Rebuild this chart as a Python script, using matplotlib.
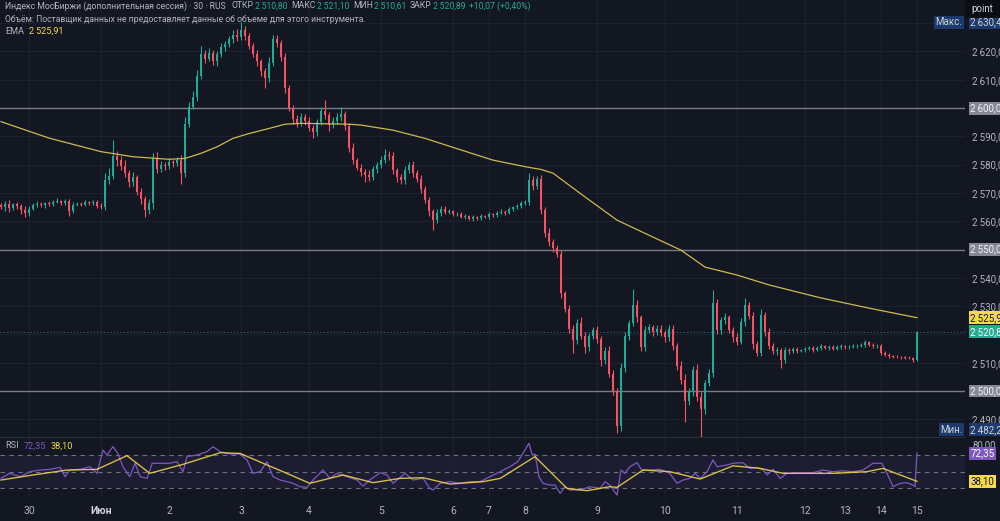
import numpy as np
import matplotlib.pyplot as plt
from matplotlib.patches import Rectangle

plt.rcParams['font.family'] = ['Roboto', 'DejaVu Sans']

# ---- data: 30-minute candles, index = bar number ----
first_open = 2565.6
close = [
    2565.0, 2566.2, 2564.8, 2566.0, 2565.3, 2564.0, 2562.8, 2564.5, 2565.8, 2566.1,
    2565.6, 2566.4, 2566.0, 2566.8, 2567.0, 2566.5, 2567.2, 2563.5, 2565.8, 2566.2,
    2565.9, 2566.7, 2566.3, 2566.9, 2565.4, 2565.0, 2574.5, 2576.0, 2583.0, 2581.5,
    2579.5, 2577.0, 2574.0, 2575.5, 2570.5, 2568.0, 2564.0, 2566.5, 2582.5, 2578.5,
    2580.0, 2579.5, 2581.0, 2580.5, 2581.5, 2577.0, 2594.5, 2600.5, 2604.0, 2611.5,
    2619.0, 2617.5, 2619.5, 2616.5, 2619.0, 2621.5, 2622.5, 2624.5, 2626.0, 2625.0,
    2627.5, 2625.5, 2622.0, 2619.0, 2616.5, 2613.0, 2610.5, 2616.0, 2624.5, 2623.0,
    2618.0, 2607.0, 2600.0, 2596.0, 2594.5, 2597.0, 2595.5, 2593.0, 2591.5, 2595.0,
    2599.0, 2597.5, 2594.0, 2595.5, 2597.0, 2598.0, 2593.5, 2586.0, 2581.5, 2579.0,
    2577.5, 2576.5, 2575.5, 2578.5, 2580.0, 2581.5, 2583.5, 2583.0, 2578.0, 2575.5,
    2574.5, 2578.0, 2580.0, 2577.0, 2575.0, 2571.5, 2567.5, 2563.5, 2560.5, 2563.0,
    2564.5, 2563.2, 2563.6, 2562.4, 2562.7, 2561.5, 2561.8, 2560.9, 2561.4, 2561.0,
    2561.8, 2561.5, 2562.4, 2562.1, 2562.9, 2563.4, 2563.0, 2564.2, 2564.9, 2565.3,
    2566.4, 2566.9, 2574.5, 2572.5, 2575.0, 2564.0, 2556.0, 2552.5, 2550.5, 2548.5,
    2534.5, 2529.0, 2522.0, 2518.0, 2524.0, 2519.5, 2515.5, 2519.5, 2521.5, 2518.5,
    2511.0, 2514.0, 2506.0, 2500.0, 2487.5, 2508.0, 2519.5, 2524.0, 2530.5, 2526.0,
    2515.5, 2521.5, 2522.5, 2521.0, 2522.0, 2520.5, 2519.0, 2522.0, 2516.0, 2509.0,
    2504.0, 2496.5, 2499.5, 2507.5, 2498.0, 2493.5, 2503.0, 2506.5, 2531.0, 2521.5,
    2525.0, 2526.0, 2521.5, 2519.0, 2517.5, 2524.5, 2530.5, 2526.5, 2516.5, 2513.5,
    2527.0, 2521.0, 2516.0, 2514.0, 2514.5, 2511.0, 2514.5, 2514.0, 2515.0, 2514.2,
    2514.5, 2515.0, 2515.3, 2514.6, 2515.2, 2515.8, 2515.2, 2515.5, 2515.0, 2515.6,
    2515.9, 2515.4, 2515.6, 2515.9, 2516.0, 2516.3, 2517.2, 2516.4, 2515.8, 2516.0,
    2513.5, 2512.8, 2512.4, 2512.2, 2512.0, 2511.9, 2511.8, 2511.7, 2510.8, 2520.89,
]
wick_up = [
    1.0, 0.8, 1.2, 0.6, 0.9, 0.7, 1.5, 0.8, 0.6, 1.0,
    0.7, 0.5, 0.8, 0.6, 1.1, 0.5, 0.7, 0.6, 0.9, 0.5,
    0.6, 0.8, 0.5, 0.7, 0.6, 0.9, 2.5, 3.0, 5.7, 2.0,
    1.5, 2.0, 1.2, 1.8, 1.0, 1.4, 1.0, 1.2, 1.5, 2.0,
    1.2, 1.0, 1.5, 0.8, 1.2, 2.0, 2.5, 1.5, 2.0, 1.8,
    3.0, 1.5, 1.8, 1.2, 1.0, 1.5, 1.2, 1.0, 1.5, 1.8,
    2.9, 1.5, 1.2, 1.0, 1.5, 1.0, 1.2, 2.0, 1.5, 1.2,
    1.0, 1.5, 1.2, 1.0, 1.5, 1.2, 1.0, 1.5, 1.0, 1.2,
    1.5, 4.0, 1.0, 1.5, 1.2, 2.5, 1.0, 1.2, 1.5, 1.0,
    1.2, 1.0, 1.5, 1.2, 1.0, 1.5, 2.0, 1.2, 1.5, 1.0,
    1.2, 1.5, 1.0, 1.2, 1.0, 1.5, 1.0, 1.2, 1.0, 1.5,
    1.0, 0.8, 0.6, 0.5, 0.7, 0.5, 0.6, 0.5, 0.7, 0.5,
    0.6, 0.5, 0.7, 0.5, 0.6, 0.8, 0.5, 0.7, 0.6, 0.8,
    0.7, 0.6, 2.5, 1.5, 1.0, 1.5, 1.0, 1.5, 1.2, 1.0,
    1.5, 1.0, 1.5, 1.2, 1.5, 2.0, 1.5, 1.0, 1.2, 1.5,
    1.0, 1.5, 2.0, 1.5, 1.0, 2.0, 1.5, 1.2, 5.5, 1.5,
    1.0, 1.5, 1.2, 1.0, 1.5, 1.2, 1.0, 1.5, 1.2, 1.0,
    1.5, 2.0, 1.5, 1.2, 2.0, 1.5, 1.0, 1.2, 4.7, 1.5,
    1.2, 1.5, 1.0, 1.2, 1.5, 1.2, 2.5, 1.0, 1.5, 1.2,
    2.0, 1.0, 1.2, 0.8, 1.0, 0.8, 1.2, 0.8, 0.6, 0.7,
    0.5, 0.6, 0.7, 0.5, 0.6, 0.7, 0.5, 0.6, 0.7, 0.5,
    0.6, 0.5, 0.7, 0.6, 0.5, 0.7, 0.8, 0.6, 0.5, 0.6,
    0.7, 0.5, 0.6, 0.5, 0.4, 0.5, 0.4, 0.5, 0.4, 0.21,
]
wick_down = [
    0.8, 1.2, 1.5, 0.7, 0.9, 1.5, 1.2, 0.8, 0.6, 0.9,
    0.6, 0.8, 0.5, 0.7, 0.5, 0.8, 0.6, 1.8, 0.7, 0.5,
    0.6, 0.5, 0.7, 0.5, 0.8, 0.6, 1.0, 1.5, 1.2, 2.0,
    1.5, 1.2, 2.0, 1.5, 1.2, 1.8, 2.5, 1.5, 2.0, 1.5,
    1.2, 1.5, 1.0, 1.2, 1.0, 4.0, 1.5, 1.2, 1.0, 1.5,
    1.2, 1.5, 1.0, 1.2, 1.5, 1.0, 1.2, 1.0, 1.5, 1.2,
    1.0, 1.5, 1.2, 1.0, 1.5, 1.5, 3.5, 1.2, 1.0, 1.5,
    1.2, 1.5, 1.2, 1.5, 1.2, 1.0, 1.5, 1.2, 2.0, 1.2,
    1.0, 1.5, 2.0, 1.2, 1.0, 1.5, 1.2, 1.5, 1.2, 1.0,
    1.5, 2.5, 1.2, 1.0, 1.5, 1.2, 1.0, 1.5, 1.2, 1.5,
    1.5, 1.2, 1.0, 1.5, 1.2, 1.5, 1.2, 1.5, 3.5, 1.2,
    1.0, 0.8, 0.6, 0.5, 0.7, 0.5, 0.6, 0.5, 0.7, 0.5,
    0.6, 0.5, 0.7, 0.5, 0.6, 0.5, 0.7, 0.6, 0.5, 0.6,
    0.5, 0.6, 1.0, 1.5, 1.0, 1.5, 1.5, 1.2, 1.5, 1.2,
    1.5, 1.2, 1.5, 4.5, 1.5, 1.2, 2.0, 1.5, 1.2, 1.5,
    2.0, 1.5, 1.2, 1.5, 2.5, 1.5, 1.2, 1.5, 1.0, 1.5,
    1.5, 1.2, 1.0, 1.5, 1.2, 1.0, 1.5, 1.2, 1.5, 1.5,
    1.5, 7.5, 1.5, 1.2, 1.5, 11.3, 1.5, 1.2, 1.5, 1.2,
    1.5, 1.2, 1.0, 1.5, 1.2, 1.0, 1.5, 1.2, 1.5, 1.2,
    1.0, 1.5, 1.2, 1.0, 1.2, 3.0, 1.0, 0.8, 0.6, 0.7,
    0.5, 0.6, 0.5, 0.7, 0.5, 0.6, 0.5, 0.7, 0.6, 0.5,
    0.6, 0.5, 0.7, 0.5, 0.6, 0.5, 0.7, 0.6, 0.5, 0.6,
    0.7, 0.5, 0.6, 0.5, 0.4, 0.5, 0.4, 0.5, 0.4, 0.19,
]

ema_at = [0, 12, 25, 33, 42, 46, 50, 54, 58, 62, 67, 71, 75, 87, 90, 98, 106,
          115, 123, 131, 135, 138, 146, 154, 163, 170, 176, 184, 192, 205, 217, 229]
ema_val = [2595.2, 2589.4, 2584.6, 2582.8, 2581.9, 2582.2, 2584.0, 2586.3, 2589.3,
           2591.0, 2592.8, 2594.3, 2594.6, 2594.3, 2594.0, 2592.2, 2589.3, 2585.2,
           2581.6, 2579.3, 2578.3, 2577.0, 2568.6, 2560.4, 2554.4, 2549.8, 2543.8,
           2541.0, 2537.5, 2532.9, 2529.3, 2525.91]

rsi_at = [0, 2.2, 4.8, 7.2, 9.8, 12.2, 14.8, 16, 17.2, 19.8, 22.2, 24, 25.5, 26.5, 28,
          29.2, 30.5, 32.2, 33.5, 34.8, 36.5, 37.8, 39.8, 42.2, 44, 45.5, 46.5, 49,
          51.5, 53, 54.8, 57.2, 59.8, 61.5, 63, 64.8, 66.5, 68, 69.8, 71.5, 73, 74.8,
          76.5, 78, 80.5, 82.2, 84, 86.5, 89, 90.5, 92.2, 94.8, 96.5, 98, 101, 103,
          105.5, 107.2, 108, 109.8, 112.2, 114.8, 117.2, 119.8, 122.2, 124.8, 127.2,
          129.2, 132, 132.8, 133.5, 134.5, 135.5, 137.2, 138.5, 139.8, 141, 142.2,
          144.8, 147.2, 149.8, 151, 152.2, 154, 155, 156, 157.2, 159, 160.2, 162.2,
          164.8, 167.2, 169, 170.5, 172.2, 173.5, 174.8, 176.5, 178, 179, 181.5, 183,
          185.5, 187.2, 189, 190.5, 191.5, 193, 194.8, 196.5, 199.8, 203, 205.5, 208,
          210.5, 213, 215.5, 218, 220.2, 221.5, 223, 224.8, 226.5, 228, 228.5, 229]
rsi_val = [41.7, 47.8, 43.7, 49.8, 51.8, 52.6, 55.0, 43.7, 51.8, 52.6, 55.8, 47.8, 76.0,
           70.0, 80.1, 72.0, 55.8, 43.7, 60.0, 43.7, 41.7, 60.0, 60.0, 60.0, 61.9, 49.8,
           68.0, 70.0, 74.0, 80.0, 74.0, 71.2, 71.2, 64.0, 47.8, 49.8, 61.9, 43.7, 39.7,
           37.7, 35.7, 31.6, 30.8, 39.7, 51.8, 41.7, 47.8, 43.7, 39.7, 32.4, 39.7, 48.6,
           45.8, 35.7, 47.8, 39.7, 41.7, 29.6, 27.6, 35.7, 37.7, 35.7, 37.7, 37.7, 43.7,
           49.8, 55.8, 61.9, 84.2, 70.0, 71.2, 43.7, 35.7, 33.6, 33.6, 23.6, 31.6, 27.6,
           27.6, 31.6, 29.6, 37.7, 33.6, 21.5, 51.8, 47.8, 55.8, 60.7, 51.8, 51.8, 52.6,
           47.8, 35.7, 39.7, 41.7, 47.8, 41.7, 49.8, 64.0, 55.8, 57.9, 60.0, 60.7, 53.8,
           55.0, 51.8, 45.8, 52.6, 41.7, 47.8, 48.6, 48.6, 51.8, 49.8, 50.8, 49.8, 51.8,
           60.0, 60.0, 47.8, 31.6, 35.7, 36.5, 33.6, 31.6, 72.35]

rsi_ma_at = [0, 8, 16.5, 24, 31.5, 37.2, 45.5, 54.8, 59.8, 66.5, 70.5, 77.2, 85.5, 93,
             99.8, 105.5, 112.2, 120.5, 124.8, 133.5, 141.5, 146.5, 152.2, 154, 160.5,
             167.2, 174.8, 183, 189.8, 195.5, 208, 216.5, 220.5, 224.8, 229]
rsi_ma_val = [39.7, 45.8, 51.8, 52.6, 69.2, 47.8, 58.7, 72.8, 71.9, 57.9, 49.8, 35.7,
              45.8, 36.5, 41.7, 42.5, 34.8, 37.7, 41.7, 68.0, 29.6, 26.8, 31.6, 30.8,
              51.8, 49.8, 40.9, 56.9, 53.8, 47.8, 47.8, 49.8, 53.8, 45.8, 38.10]

day_pos = [7, 25, 42, 60, 77, 95, 113, 122, 131, 149, 166, 184, 201, 211, 220, 229]
day_labels = ['30', 'Июн', '2', '3', '4', '5', '6', '7', '8', '9', '10', '11', '12',
              '13', '14', '15']
price_ticks = list(range(2490, 2631, 10))
levels = [2600, 2550, 2500]
hidden_ticks = levels + [2520, 2630]   # covered by price tags in the reference
price_max = 2630.4
price_min = 2482.2

# ---- colours ----
BG = '#131722'
TXT = '#b2b5be'
GRID = '#1e2230'
UP = '#22ab94'
DOWN = '#f7525f'
EMA_C = '#cdb94e'
YEL = '#f5d94a'
PURP = '#7e57c2'
BLUE = '#1c3a6b'
GREY = '#868993'
FS = 7


def fmt(v, nd=2):
    return f"{v:,.{nd}f}".replace(',', '\u2009').replace('.', ',')


fig = plt.figure(figsize=(10, 5.21), dpi=100, facecolor=BG)
ax = fig.add_axes([0, 84 / 521, 0.965, 437 / 521], facecolor=BG)
ax_r = fig.add_axes([0, 21 / 521, 0.965, 62 / 521], facecolor=BG, sharex=ax)

# ---- candles ----
c = np.array(close)
o = np.r_[first_open, c[:-1]]
idx = np.arange(len(c))
hi = np.maximum(o, c) + np.array(wick_up)
lo = np.minimum(o, c) - np.array(wick_down)
cols = np.where(c >= o, UP, DOWN)
ax.vlines(idx, lo, hi, colors=cols, lw=0.8, zorder=3)
ax.bar(idx, np.abs(c - o), bottom=np.minimum(o, c), width=0.6, color=cols,
       linewidth=0, zorder=3)

ax.plot(ema_at, ema_val, color=EMA_C, lw=0.9, zorder=4)

for lv in levels:
    ax.axhline(lv, color='#787b86', lw=1.0, zorder=2)
ax.axhline(c[-1], color=UP, lw=0.8, ls=(0, (1, 2)), alpha=0.6, zorder=2)

ax.set_xlim(-0.25, 241)
ax.set_ylim(2483.75, 2638.2)
ax.set_xticks(day_pos)
ax.yaxis.tick_right()
ax.set_yticks(price_ticks)
ax.set_yticklabels(['' if p in hidden_ticks else fmt(p) for p in price_ticks])
ax.tick_params(axis='y', colors=TXT, labelsize=FS, length=0, pad=5)
ax.tick_params(axis='x', labelbottom=False, length=0)
ax.grid(True, color=GRID, lw=0.7)
for s in ax.spines.values():
    s.set_visible(False)
ax.spines['bottom'].set_visible(True)
ax.spines['bottom'].set_color('#2a2e39')


def tag(axis, y, text, bg, fg, x=1.0055, ha='left'):
    axis.text(x, y, text, transform=axis.get_yaxis_transform(), ha=ha, va='center',
              fontsize=FS, color=fg, clip_on=False, zorder=6,
              bbox=dict(boxstyle='square,pad=0.15', fc=bg, ec='none'))


for lv in levels:
    tag(ax, lv, fmt(lv), GREY, '#f0f3fa')
tag(ax, ema_val[-1], fmt(ema_val[-1]), YEL, '#131722')
tag(ax, c[-1], fmt(c[-1]), UP, '#ffffff')
tag(ax, price_max, 'Макс.', BLUE, '#d1d4dc', x=0.9975, ha='right')
tag(ax, price_max, fmt(price_max), BLUE, '#d1d4dc')
tag(ax, 2486.3, 'Мин.', BLUE, '#d1d4dc', x=0.9975, ha='right')
tag(ax, 2486.3, fmt(price_min), BLUE, '#d1d4dc')

# ---- RSI pane ----
ax_r.axhspan(30, 70, color=PURP, alpha=0.1, lw=0)
for lv in (70, 50, 30):
    ax_r.axhline(lv, color='#787b86', lw=0.8, ls=(0, (4, 4)), alpha=0.9)
ax_r.plot(rsi_at, rsi_val, color=PURP, lw=0.9, zorder=3)
ax_r.plot(rsi_ma_at, rsi_ma_val, color=YEL, lw=1.0, alpha=0.85, zorder=4)
ax_r.set_ylim(15.5, 90.6)
ax_r.set_yticks([])
ax_r.set_xticks(day_pos)
ax_r.set_xticklabels(day_labels)
ax_r.tick_params(axis='x', colors=TXT, labelsize=7.5, length=0, pad=4)
ax_r.get_xticklabels()[1].set_fontweight('bold')
ax_r.get_xticklabels()[1].set_color('#d1d4dc')
ax_r.grid(True, axis='x', color=GRID, lw=0.7)
for s in ax_r.spines.values():
    s.set_visible(False)
ax_r.text(1.0075, 82, fmt(80), transform=ax_r.get_yaxis_transform(), ha='left',
          va='center', fontsize=FS, color=TXT, clip_on=False)
tag(ax_r, 72.35, fmt(rsi_val[-1]), PURP, '#ffffff')
tag(ax_r, 38.10, fmt(rsi_ma_val[-1]), YEL, '#131722')

# ---- legends ----
renderer = fig.canvas.get_renderer()
inv = fig.transFigure.inverted()


def row(y, parts, x0=5, size=6.2):
    x = x0 / 1000
    for text, col, gap in parts:
        x += gap / 1000
        t = fig.text(x, y, text, color=col, fontsize=size, ha='left', va='center')
        x = inv.transform((t.get_window_extent(renderer).x1, 0))[0]


row(1 - 6 / 521, [
    ('Индекс МосБиржи (дополнительная сессия) · 30 · RUS', TXT, 0),
    ('ОТКР', TXT, 6), (fmt(o[-1]), UP, 1),
    ('МАКС', TXT, 4), (fmt(hi[-1]), UP, 1),
    ('МИН', TXT, 4), (fmt(lo[-1]), UP, 1),
    ('ЗАКР', TXT, 4), (fmt(c[-1]), UP, 1),
    ('+10,07 (+0,40%)', UP, 3),
])
row(1 - 19 / 521, [('Объём: Поставщик данных не предоставляет данные об объеме '
                    'для этого инструмента.', TXT, 0)])
row(1 - 31 / 521, [('EMA', TXT, 0), (fmt(ema_val[-1]), YEL, 5)], size=6.6)
row(1 - 446 / 521, [('RSI', TXT, 0), (fmt(rsi_val[-1]), PURP, 5),
                    (fmt(rsi_ma_val[-1]), YEL, 5)], size=6.6)

fig.patches.append(Rectangle((0.965, 1 - 18 / 521), 0.035, 18 / 521,
                             transform=fig.transFigure, fc='#0b0d13', ec='none'))
fig.text(0.982, 1 - 9 / 521, 'point', color='#d1d4dc', fontsize=FS,
         ha='center', va='center')

fig.savefig('out.png', dpi=100, facecolor=BG)
